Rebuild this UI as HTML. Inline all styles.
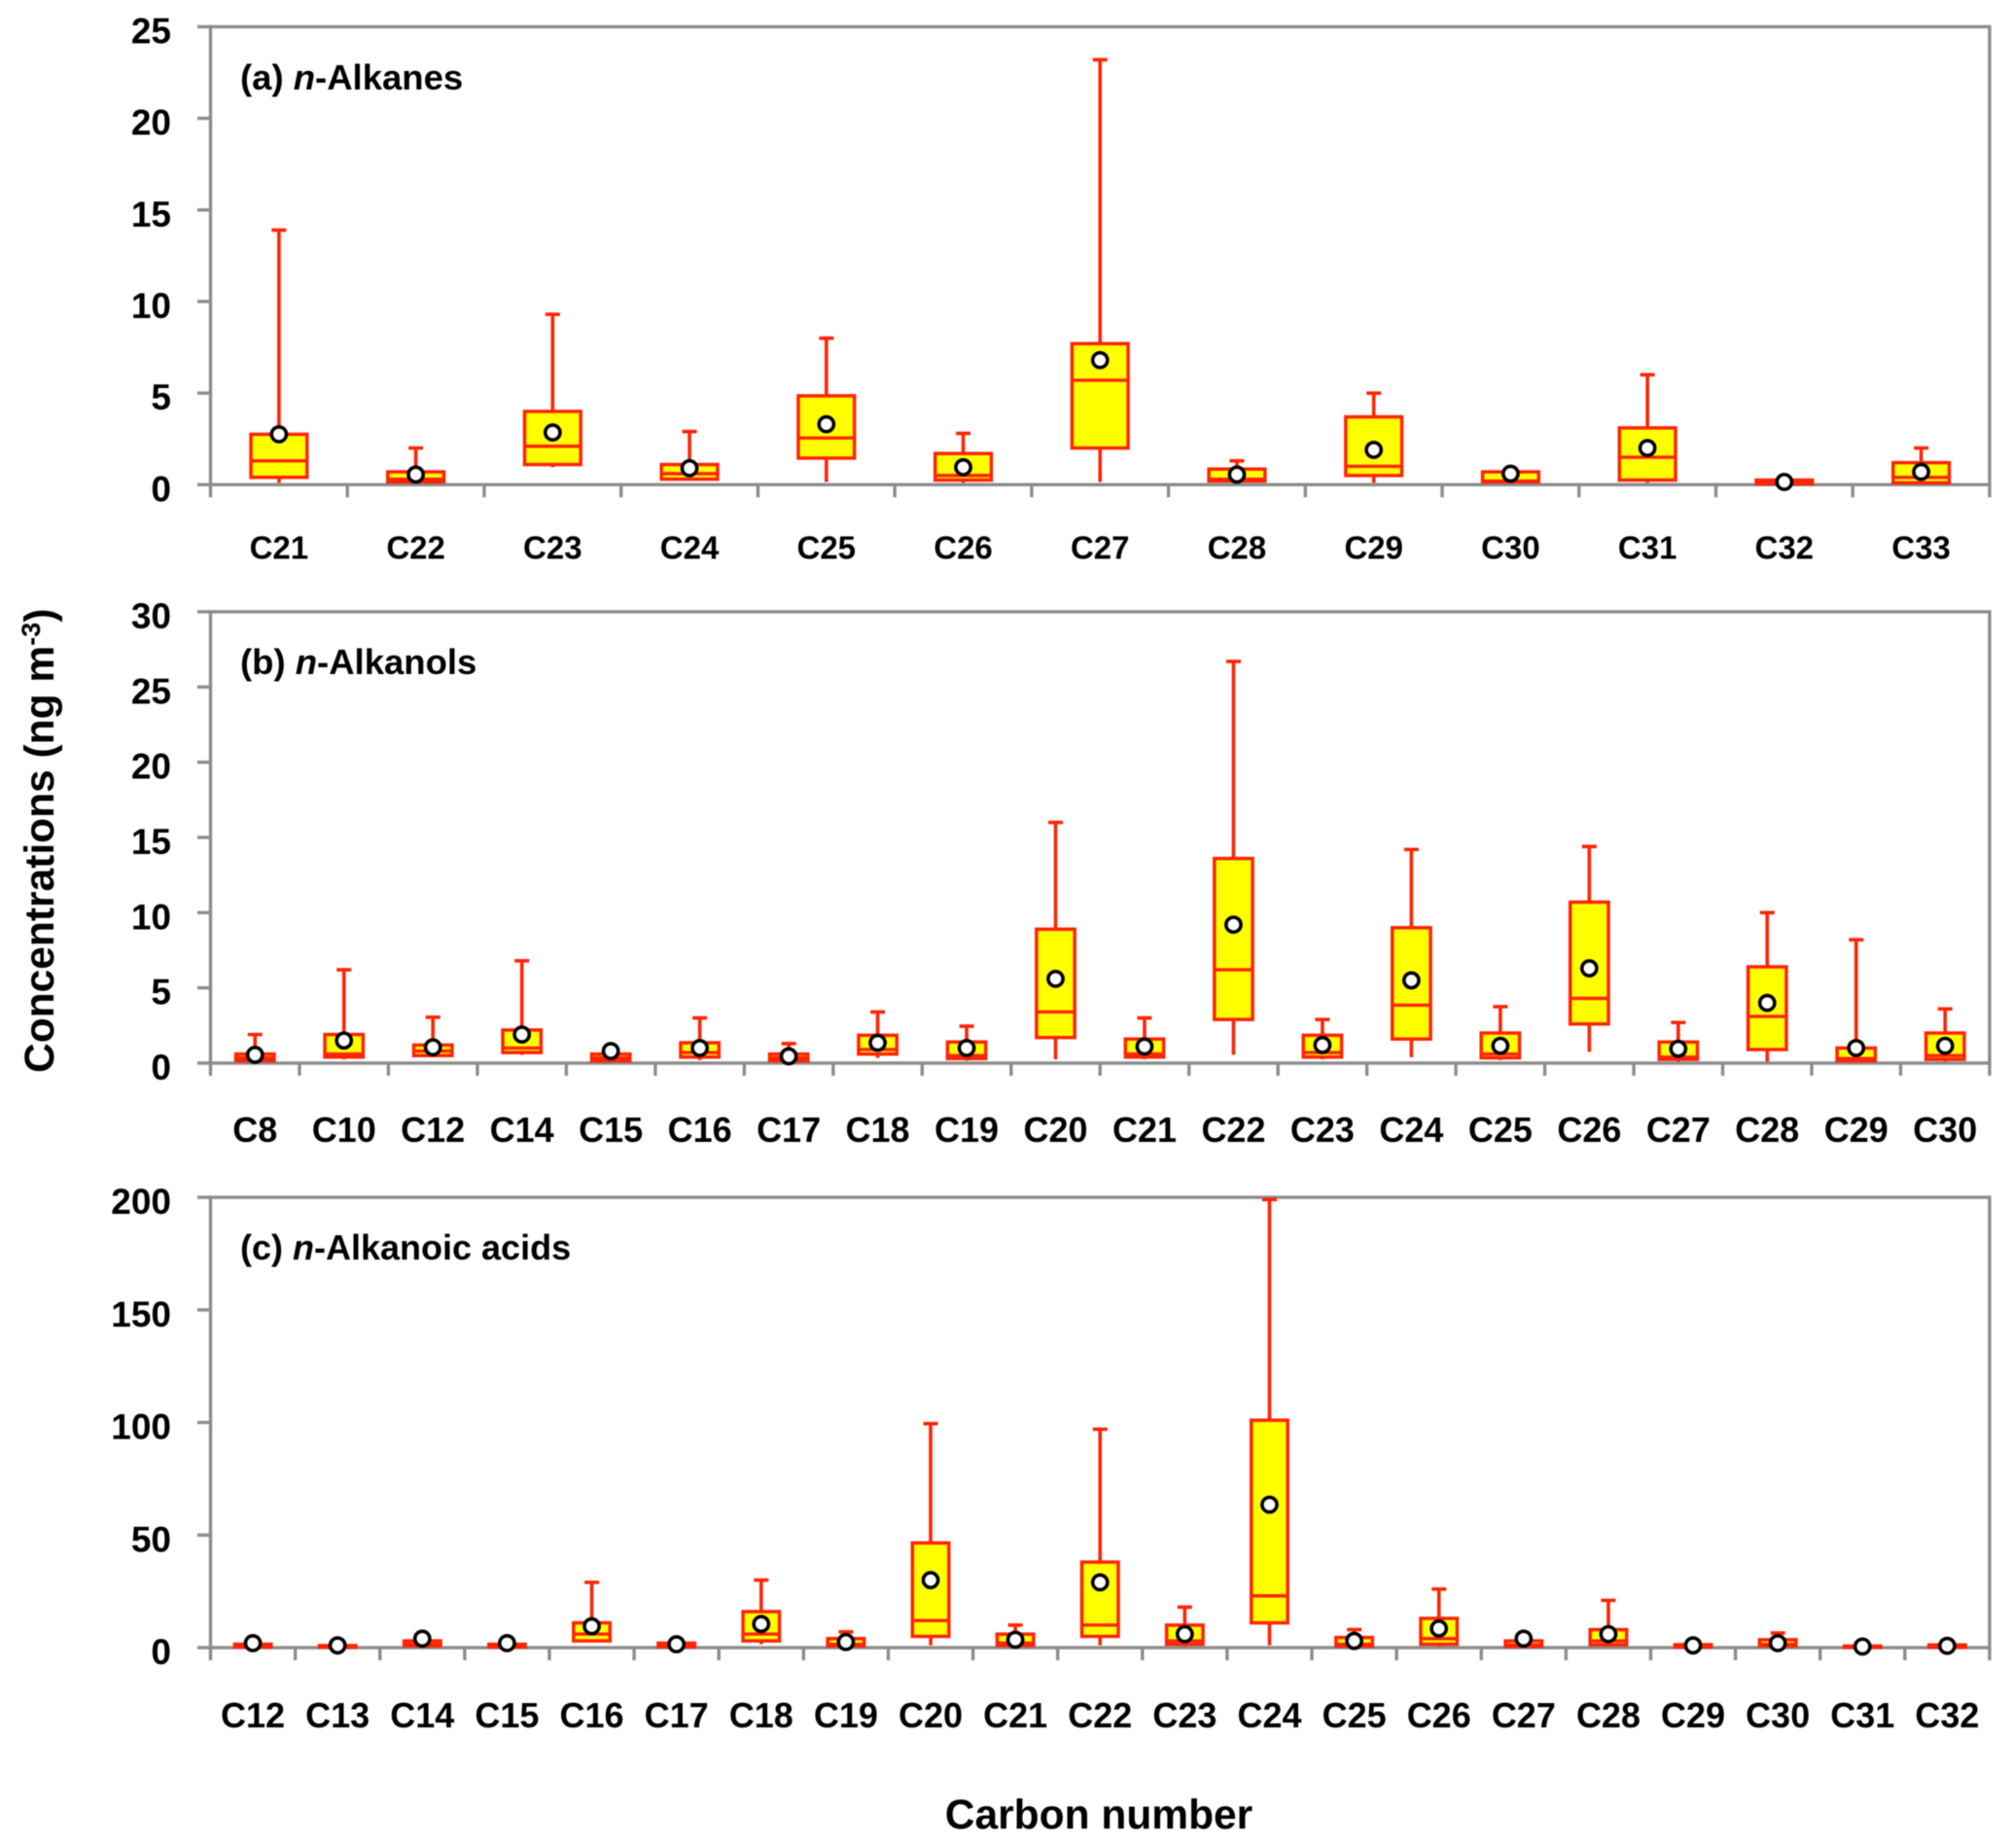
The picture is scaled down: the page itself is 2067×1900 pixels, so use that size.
<!DOCTYPE html>
<html lang="en">
<head>
<meta charset="utf-8">
<title>Carbon number distributions</title>
<style>
html,body{margin:0;padding:0;background:#fff;}
svg{display:block;filter:blur(0.5px);}
text{font-family:"Liberation Sans",sans-serif;font-weight:bold;fill:#000;}
</style>
</head>
<body>
<svg id="chart" xmlns="http://www.w3.org/2000/svg" width="2067" height="1900" viewBox="0 0 2067 1900">
  <rect x="0" y="0" width="2067" height="1900" fill="#fff"/>
  <text transform="translate(55,1103) rotate(-90)" font-size="42.5">Concentrations (ng m<tspan font-size="27" dy="-14">-3</tspan><tspan dy="14">)</tspan></text>
  <text x="1130" y="1880" text-anchor="middle" font-size="42.5">Carbon number</text>
  <text x="247" y="92" font-size="36.5">(a) <tspan font-style="italic">n</tspan>-Alkanes</text>
  <text x="247" y="693" font-size="36.5">(b) <tspan font-style="italic">n</tspan>-Alkanols</text>
  <text x="247" y="1295" font-size="36">(c) <tspan font-style="italic">n</tspan>-Alkanoic acids</text>
</svg>
<script>
// Panel (a) n-Alkanes
const alkaneCategories = ["C21","C22","C23","C24","C25","C26","C27","C28","C29","C30","C31","C32","C33"];
const alkaneWhiskerHigh = [13.9,2.0,9.3,2.9,8.0,2.8,23.2,1.3,5.0,0.7,6.0,0.3,2.0];
const alkaneQ3 = [2.75,0.7,4.0,1.1,4.85,1.7,7.7,0.85,3.7,0.7,3.1,0.25,1.2];
const alkaneMedian = [1.3,0.3,2.1,0.6,2.55,0.5,5.7,0.3,1.0,0.2,1.5,0.1,0.4];
const alkaneQ1 = [0.4,0.15,1.1,0.3,1.45,0.25,2.0,0.2,0.5,0.15,0.25,0.05,0.1];
const alkaneWhiskerLow = [0.1,0.1,0.95,0.2,0.15,0.1,0.15,0.1,0.1,0.1,0.1,0.05,0.05];
const alkaneMean = [2.75,0.55,2.85,0.9,3.3,0.95,6.8,0.55,1.9,0.6,2.0,0.15,0.7];
const alkaneTicks = [0,5,10,15,20,25];

// Panel (b) n-Alkanols
const alkanolCategories = ["C8","C10","C12","C14","C15","C16","C17","C18","C19","C20","C21","C22","C23","C24","C25","C26","C27","C28","C29","C30"];
const alkanolWhiskerHigh = [1.9,6.2,3.05,6.8,0.6,3.0,1.3,3.4,2.45,16,3.0,26.7,2.9,14.2,3.75,14.4,2.7,10,8.2,3.6];
const alkanolQ3 = [0.6,1.9,1.2,2.2,0.6,1.35,0.6,1.85,1.4,8.9,1.6,13.6,1.85,9.0,2.0,10.7,1.4,6.4,1.0,2.0];
const alkanolMedian = [0.35,0.6,0.8,1.0,0.35,0.7,0.35,0.9,0.5,3.4,0.6,6.2,0.7,3.85,0.6,4.3,0.4,3.1,0.3,0.5];
const alkanolQ1 = [0.15,0.4,0.5,0.7,0.15,0.4,0.15,0.6,0.3,1.7,0.4,2.9,0.4,1.6,0.35,2.6,0.25,0.9,0.15,0.25];
const alkanolWhiskerLow = [0.1,0.25,0.4,0.55,0.1,0.2,0.05,0.35,0.15,0.25,0.25,0.55,0.25,0.4,0.2,0.75,0.1,0.1,0.1,0.1];
const alkanolMean = [0.55,1.5,1.05,1.9,0.8,1.0,0.45,1.35,1.0,5.6,1.1,9.2,1.2,5.5,1.15,6.3,0.95,4.0,1.0,1.15];
const alkanolTicks = [0,5,10,15,20,25,30];

// Panel (c) n-Alkanoic acids
const acidCategories = ["C12","C13","C14","C15","C16","C17","C18","C19","C20","C21","C22","C23","C24","C25","C26","C27","C28","C29","C30","C31","C32"];
const acidWhiskerHigh = [1.5,0.9,3,1.5,29,2,30,7,99.5,10,97,18,199,8,26,3,21,1.3,6.5,0.7,1.2];
const acidQ3 = [1.5,0.9,3,1.5,11,2,16,4,46.5,6,38,10,101,4.5,13,3,8,1.3,3.5,0.7,1.2];
const acidMedian = [0.7,0.4,1.5,0.7,6,0.8,6,1.5,12,2,10,3,23,1.5,4,1.2,3,0.5,1.5,0.3,0.5];
const acidQ1 = [0.3,0.2,0.8,0.3,3,0.4,3,0.8,5,1,5,1.5,11,0.7,1.5,0.6,1.3,0.3,0.8,0.1,0.2];
const acidWhiskerLow = [0.2,0.1,0.5,0.2,2.5,0.2,1.5,0.4,1,0.4,1,0.5,1,0.3,0.5,0.3,0.5,0.1,0.4,0.1,0.1];
const acidMean = [2,1,4,2,9.5,1.5,10.5,2.5,30,3.5,29,6,63.5,3,8.5,4,6,1,2,0.5,0.8];
const acidTicks = [0,50,100,150,200];

const SVG_NS = "http://www.w3.org/2000/svg";
const svg = document.getElementById("chart");
const AXIS = "#8c8c8c";
const RED = "#ff2405";
const YELLOW = "#ffff00";

function make(tag, attrs, parent) {
  const el = document.createElementNS(SVG_NS, tag);
  for (const k in attrs) el.setAttribute(k, attrs[k]);
  parent.appendChild(el);
  return el;
}

function drawPanel(id, cats, high, q3, med, q1, low, mean, ticks, top, bottom, labelSize, labelOffset) {
  const left = 216.5, right = 2046;
  const yMax = ticks[ticks.length - 1];
  const step = (right - left) / cats.length;
  const xScale = function (i) { return left + step * (i + 0.5); };
  const yScale = function (v) { return bottom - (v / yMax) * (bottom - top); };
  const boxW = step * (cats.length === 13 ? 0.41 : 0.43);
  const capW = 15;

  const g = make("g", {}, svg);
  
  

  const frame = make("rect", { x: left, y: top, width: right - left, height: bottom - top, fill: "none", stroke: AXIS, "stroke-width": 3.4 }, g);
  
  

  ticks.forEach(function (t) {
    const y = yScale(t);
    const line = make("line", { x1: 203, x2: left, y1: y, y2: y, stroke: AXIS, "stroke-width": 3.4 }, g);
    
    
    const lab = make("text", { x: 176, y: y + 17, "text-anchor": "end", "font-size": 37 }, g);
    
    
    lab.textContent = String(t);
  });

  for (let i = 0; i <= cats.length; i++) {
    const x = left + step * i;
    const line = make("line", { x1: x, x2: x, y1: bottom, y2: bottom + 13, stroke: AXIS, "stroke-width": 3.4 }, g);
    
    
  }

  cats.forEach(function (c, i) {
    const x = xScale(i);
    const lab = make("text", { x: x, y: bottom + labelOffset, "text-anchor": "middle", "font-size": labelSize }, g);
    
    
    lab.textContent = c;

    const whisker = make("path", {
      d: "M" + (x - capW / 2) + " " + yScale(high[i]) + "H" + (x + capW / 2) +
         "M" + x + " " + yScale(high[i]) + "V" + yScale(low[i]),
      fill: "none", stroke: RED, "stroke-width": 3.6
    }, g);
    
    

    const box = make("rect", {
      x: x - boxW / 2, y: yScale(q3[i]), width: boxW, height: yScale(q1[i]) - yScale(q3[i]),
      fill: YELLOW, stroke: RED, "stroke-width": 3.5
    }, g);
    
    

    const medLine = make("line", {
      x1: x - boxW / 2, x2: x + boxW / 2, y1: yScale(med[i]), y2: yScale(med[i]),
      stroke: RED, "stroke-width": 3.4
    }, g);
    
    

    const dot = make("circle", {
      cx: x, cy: yScale(mean[i]), r: 7.6, fill: "#fff", stroke: "#000", "stroke-width": 3.6
    }, g);
    
    
  });
}

drawPanel("a", alkaneCategories, alkaneWhiskerHigh, alkaneQ3, alkaneMedian, alkaneQ1, alkaneWhiskerLow, alkaneMean, alkaneTicks, 27.5, 498.3, 33, 76);
drawPanel("b", alkanolCategories, alkanolWhiskerHigh, alkanolQ3, alkanolMedian, alkanolQ1, alkanolWhiskerLow, alkanolMean, alkanolTicks, 629, 1093, 36, 81);
drawPanel("c", acidCategories, acidWhiskerHigh, acidQ3, acidMedian, acidQ1, acidWhiskerLow, acidMean, acidTicks, 1231, 1694, 36, 82);
</script>
</body>
</html>
